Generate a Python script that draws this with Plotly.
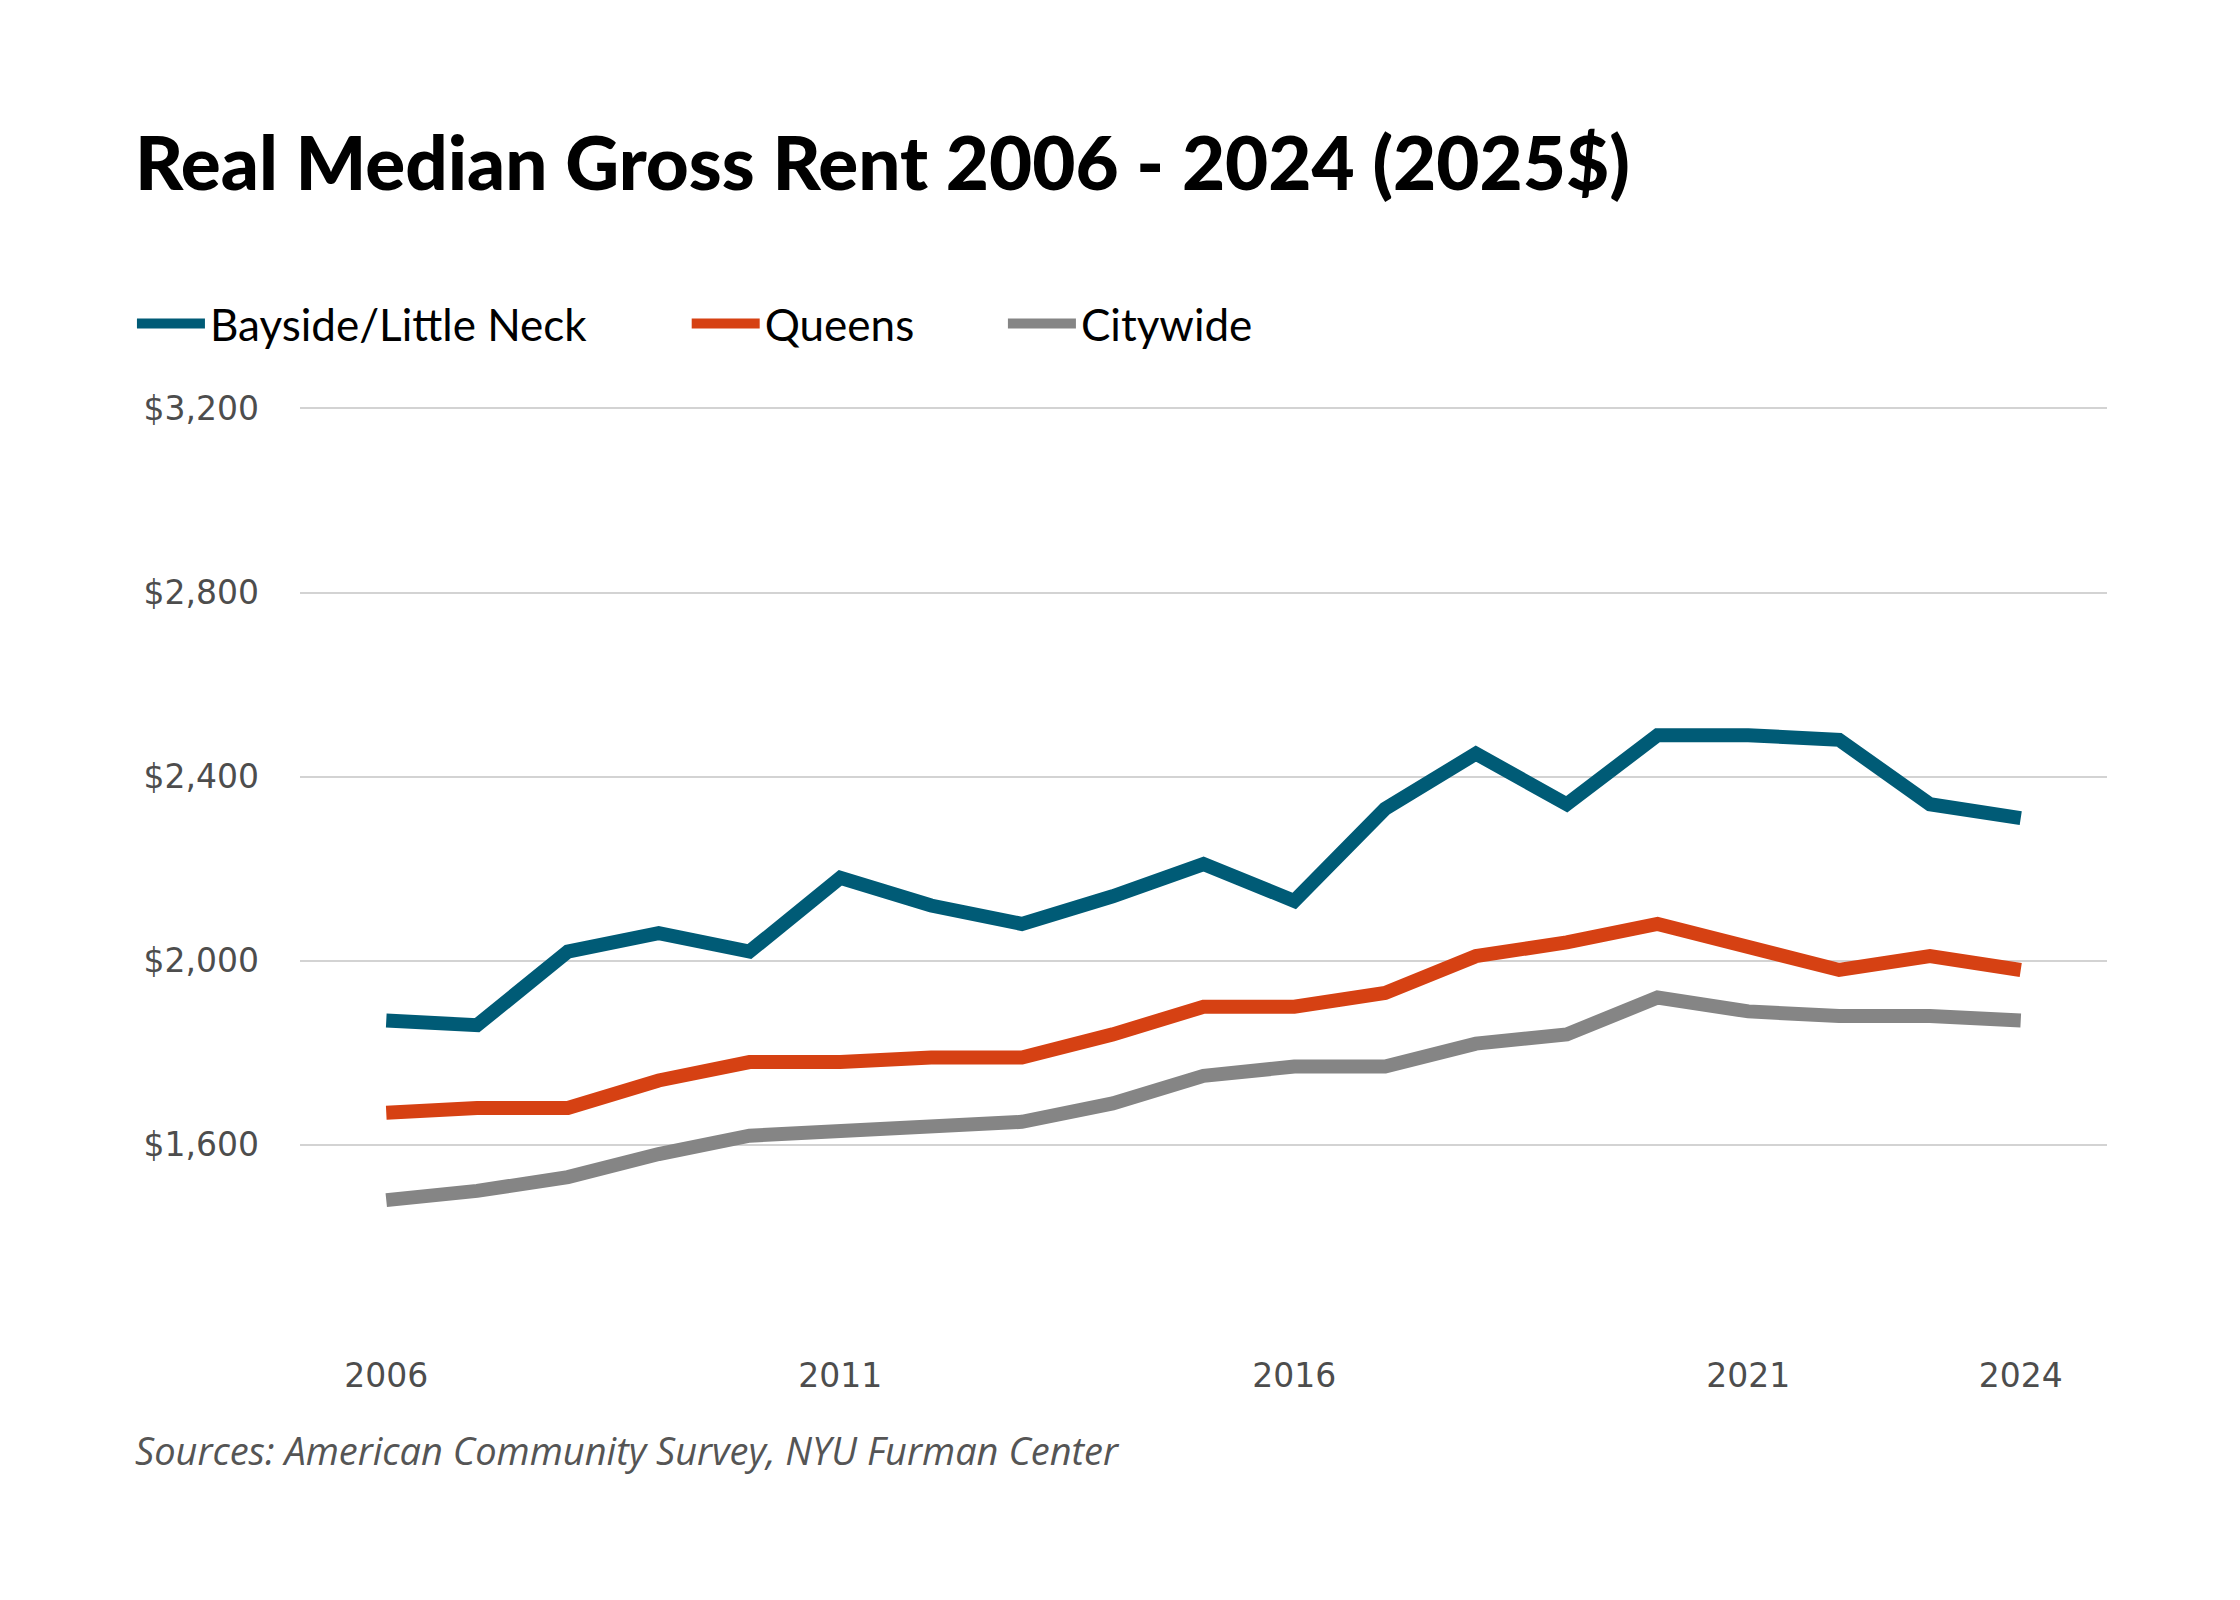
import plotly.graph_objects as go

years = list(range(2006, 2025))
bayside = [1870, 1860, 2020, 2060, 2020, 2180, 2120, 2080, 2140, 2210,
           2130, 2330, 2450, 2340, 2490, 2490, 2480, 2340, 2310]
queens = [1670, 1680, 1680, 1740, 1780, 1780, 1790, 1790, 1840, 1900,
          1900, 1930, 2010, 2040, 2080, 2030, 1980, 2010, 1980]
citywide = [1480, 1500, 1530, 1580, 1620, 1630, 1640, 1650, 1690, 1750,
            1770, 1770, 1820, 1840, 1920, 1890, 1880, 1880, 1870]

series = [
    ("Bayside/Little Neck", bayside, "#005b76", "legend"),
    ("Queens", queens, "#d64113", "legend2"),
    ("Citywide", citywide, "#858585", "legend3"),
]

x_ticks = [2006, 2011, 2016, 2021, 2024]
y_ticks = [1600, 2000, 2400, 2800, 3200]
y_labels = ["$1,600", "$2,000", "$2,400", "$2,800", "$3,200"]

fig = go.Figure()
for name, vals, color, leg in series:
    fig.add_trace(go.Scatter(x=years, y=vals, name=name, mode="lines",
                             line=dict(color=color, width=14), legend=leg))

leg_font = dict(size=44, color="black", family="Lato")
def leg(x):
    return dict(orientation="h", xref="paper", x=x, xanchor="left",
                yref="paper", y=1.09, yanchor="middle", font=leg_font,
                itemwidth=68)

fig.update_layout(
    width=2240, height=1600,
    margin=dict(l=292, r=141, t=399, b=279),
    paper_bgcolor="white", plot_bgcolor="white",
    font=dict(family="Lato", color="#4d4d4d"),
    title=dict(text="Real Median Gross Rent 2006 - 2024 (2025$)",
               font=dict(size=74.5, color="black", family="Lato", weight=900),
               xref="container", x=0.0567, xanchor="left",
               yref="container", y=0.9025, yanchor="middle"),
    legend=leg(-0.093), legend2=leg(0.214), legend3=leg(0.389),
    showlegend=True,
)
fig.update_xaxes(range=[2005.05, 2024.95], tickvals=x_ticks, showgrid=False,
                 zeroline=False, showline=False, ticks="",
                 tickfont=dict(size=33, color="#4d4d4d", family="DejaVu Sans"),
                 ticklabelstandoff=24)
fig.update_yaxes(range=[1200, 3203], tickvals=y_ticks, ticktext=y_labels,
                 showgrid=True, gridcolor="#d3d3d3", gridwidth=2,
                 zeroline=False, showline=False, ticks="",
                 tickfont=dict(size=33, color="#4d4d4d", family="DejaVu Sans"),
                 ticklabelstandoff=40)

fig.add_annotation(text="<i>Sources: American Community Survey, NYU Furman Center</i>",
                   xref="paper", yref="paper", x=-0.0924, y=-0.131,
                   xanchor="left", yanchor="middle", showarrow=False,
                   font=dict(size=38, color="#555555", family="Open Sans"))

fig.write_html("out.html")
